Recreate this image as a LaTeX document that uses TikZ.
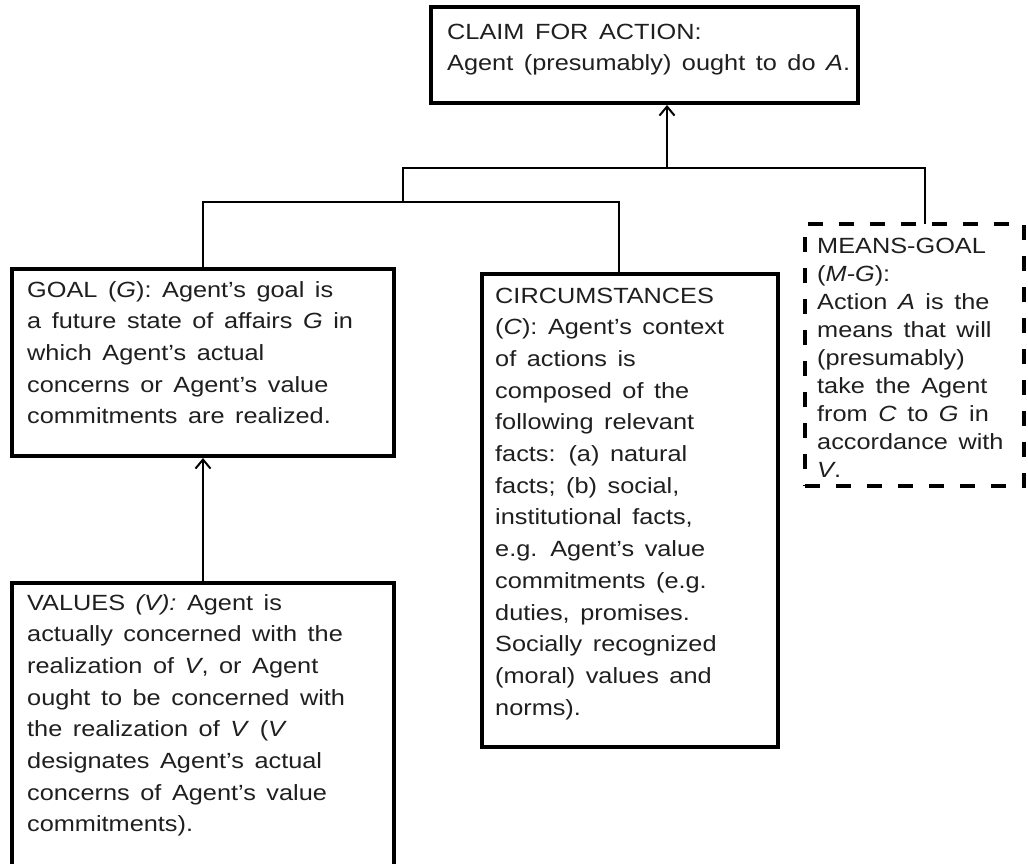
\documentclass[tikz,border=0pt]{standalone}
\usepackage{fontspec}
\setmainfont{Liberation Sans}[FakeStretch=1.15,WordSpace=1.5]
\usetikzlibrary{arrows.meta}
\newcommand{\boxtext}[1]{\parbox[t]{500pt}{\raggedright #1}}
\begin{document}
\begin{tikzpicture}[x=1pt,y=-1pt]
\tikzset{
  box/.style={draw=black, line width=3.8pt, inner sep=0pt, outer sep=0pt},
  dbox/.style={box, dash pattern=on 15pt off 16pt},
  conn/.style={draw=black, line width=2pt},
  arr/.style={conn, -{Straight Barb[length=9pt,width=15pt,line width=2pt]}, shorten >=2pt},
  txt/.style={anchor=base west, inner sep=0pt, text=black!88,
              font=\fontsize{22}{31.7}\selectfont},
  mtxt/.style={txt, font=\fontsize{22}{28}\selectfont}
}
\useasboundingbox (0,0) rectangle (1028,863);
\clip (0,0) rectangle (1028,863);
\fill[white] (0,0) rectangle (1028,863);

% boxes
\node[box, minimum width=427pt, minimum height=96pt] (claim) at (644.5,55) {};
\node[box, minimum width=382pt, minimum height=187pt] (goal) at (203,362.5) {};
\node[box, minimum width=296pt, minimum height=473pt] (circ) at (630,510.5) {};
\node[dbox, minimum width=219pt, minimum height=262pt] (means) at (914.5,355) {};
\node[box, minimum width=382pt, minimum height=317pt] (values) at (203,741.5) {};

% texts
\node[txt] (claimtxt) at (447,39) {\boxtext{CLAIM FOR ACTION:\\
Agent (presumably) ought to do \textit{A}.}};
\node[txt] (goaltxt) at (27,297) {\boxtext{GOAL (\textit{G}): Agent’s goal is\\
a future state of affairs \textit{G} in\\
which Agent’s actual\\
concerns or Agent’s value\\
commitments are realized.}};
\node[txt] (circtxt) at (495,303) {\boxtext{CIRCUMSTANCES\\
(\textit{C}): Agent’s context\\
of actions is\\
composed of the\\
following relevant\\
facts: (a) natural\\
facts; (b) social,\\
institutional facts,\\
e.g. Agent’s value\\
commitments (e.g.\\
duties, promises.\\
Socially recognized\\
(moral) values and\\
norms).}};
\node[mtxt] (meanstxt) at (817,253) {\boxtext{MEANS-GOAL\\
(\textit{M-G}):\\
Action \textit{A} is the\\
means that will\\
(presumably)\\
take the Agent\\
from \textit{C} to \textit{G} in\\
accordance with\\
\textit{V}.}};
\node[txt] (valuestxt) at (27,610) {\boxtext{VALUES \textit{(V):} Agent is\\
actually concerned with the\\
realization of \textit{V}, or Agent\\
ought to be concerned with\\
the realization of \textit{V} (\textit{V}\\
designates Agent’s actual\\
concerns of Agent’s value\\
commitments).}};

% junctions
\coordinate (tbL) at (403,168);
\coordinate (tbR) at (925,168);
\coordinate (ap) at (667,168);
\coordinate (bbR) at (619,202);

% connectors
\draw[conn] (goal.north) |- (bbR) -- (circ.north -| bbR);
\draw[conn] (tbL |- bbR) -- (tbL) -- (tbR) -- (means.north -| tbR);
\draw[arr] (ap) -- (claim.south -| ap);
\draw[arr] (values.north) -- (goal.south);
\end{tikzpicture}
\end{document}
